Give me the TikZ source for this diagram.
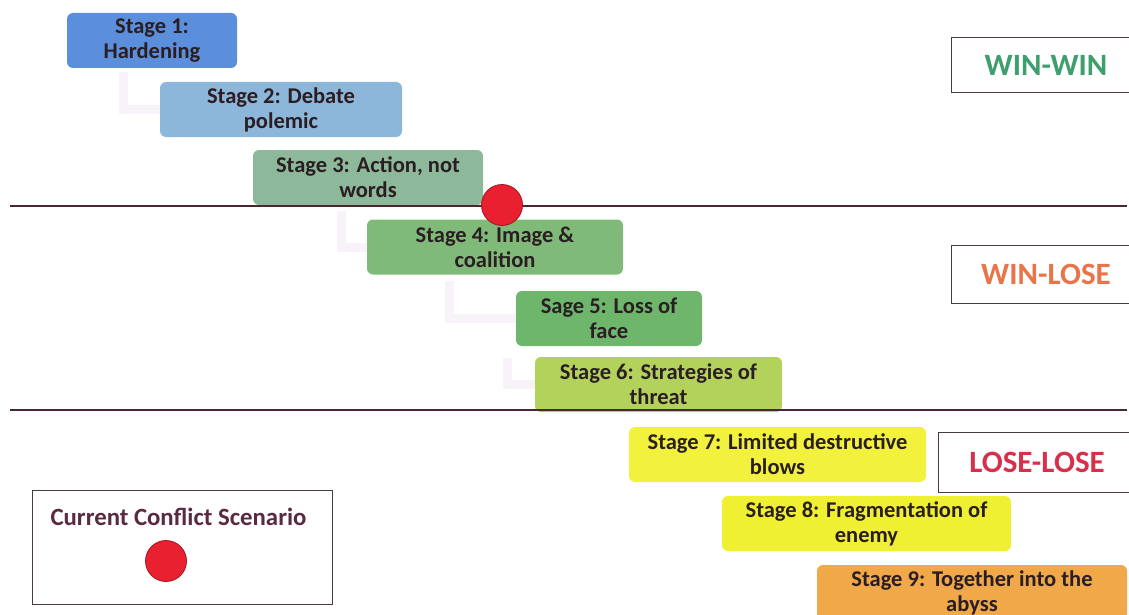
\documentclass[tikz,border=0pt]{standalone}
\usepackage{fontspec}
\setmainfont{Carlito}
\usetikzlibrary{positioning,backgrounds}
\definecolor{stagetext}{HTML}{2A1E22}
\definecolor{divider}{HTML}{4A2630}
\definecolor{boxline}{HTML}{4A3A40}
\definecolor{ghost}{HTML}{F8F2F9}
\definecolor{dotred}{HTML}{E8202F}
\tikzset{stage node/.style={rounded corners=6pt,minimum height=55pt,align=center,inner sep=2pt,font=\bfseries\fontsize{22.5}{25}\selectfont,text=stagetext} }
\tikzset{result node/.style={draw=boxline,line width=1pt,font=\bfseries\fontsize{31}{34}\selectfont} }
\tikzset{dot node/.style={circle,fill=dotred,draw=dotred!70!black,line width=0.8pt,minimum size=41pt,inner sep=0pt} }
\tikzset{ghost line/.style={draw=ghost,line width=9pt} }

\begin{document}
\begin{tikzpicture}[x=1pt,y=-1pt]
\useasboundingbox (0,0) rectangle (1129,615);

  \node[stage node,fill={rgb,255:red,91;green,142;blue,219},minimum width=170pt] (1) at (152,40.5) {Stage 1:\\Hardening};
  \node[stage node,fill={rgb,255:red,141;green,182;blue,219},minimum width=242pt] (2) at (281,109.5) {Stage 2: Debate\\polemic};
  \node[stage node,fill={rgb,255:red,141;green,184;blue,154},minimum width=230pt] (3) at (368,177.5) {Stage 3: Action, not\\words};
  \node[stage node,fill={rgb,255:red,128;green,186;blue,120},minimum width=256pt] (4) at (495,247) {Stage 4: Image \&\\coalition};
  \node[stage node,fill={rgb,255:red,109;green,182;blue,107},minimum width=186pt] (5) at (609,318.5) {Sage 5: Loss of\\face};
  \node[stage node,fill={rgb,255:red,179;green,210;blue,92},minimum width=247pt] (6) at (658.5,384.5) {Stage 6: Strategies of\\threat};
  \node[stage node,fill={rgb,255:red,242;green,242;blue,62},minimum width=297pt] (7) at (777.5,454.5) {Stage 7: Limited destructive\\blows};
  \node[stage node,fill={rgb,255:red,240;green,240;blue,50},minimum width=289pt] (8) at (866.5,523.5) {Stage 8: Fragmentation of\\enemy};
  \node[stage node,fill={rgb,255:red,240;green,168;blue,72},minimum width=310pt] (9) at (972,592.5) {Stage 9: Together into the\\abyss};

  % faint elbows between the stages
  \begin{pgfonlayer}{background}
  \path[ghost line] ([xshift=57pt,yshift=-4pt]1.south west) |- (2.west);
  \path[ghost line] ([xshift=89pt,yshift=-6pt]3.south west) |- ([xshift=4pt]4.west);
  \path[ghost line] ([xshift=83pt,yshift=-6pt]4.south west) |- ([xshift=4pt]5.west);
  \path[ghost line] ([xshift=-8pt,yshift=-12pt]5.south west) |- ([xshift=4pt]6.west);
  \end{pgfonlayer}

  \draw[divider,line width=1.3pt] (10,206) -- (1127,206);
  \draw[divider,line width=1.3pt] (10,410) -- (1127,410);

  \node[dot node] (now) at (502,205) {};

  \node[result node,text={rgb,255:red,62;green,158;blue,110},minimum width=190pt,minimum height=55pt] (ww) at (1046,65.5) {WIN-WIN};
  \node[result node,text={rgb,255:red,232;green,116;blue,74},minimum width=190pt,minimum height=58pt] (wl) at (1046,274) {WIN-LOSE};
  \node[result node,text={rgb,255:red,214;green,48;blue,74},minimum width=198pt,minimum height=60pt] (ll) at (1037,462) {LOSE-LOSE};

  \node[draw=boxline,line width=1pt,minimum width=300pt,minimum height=114pt] (cur) at (182,547) {};
  \node[font=\bfseries\fontsize{24.8}{28}\selectfont,text={rgb,255:red,90;green,42;blue,64}] (curtext) at (178.5,517) {Current Conflict Scenario};
  \node[dot node] (curdot) at (166,561) {};

\end{tikzpicture}
\end{document}
